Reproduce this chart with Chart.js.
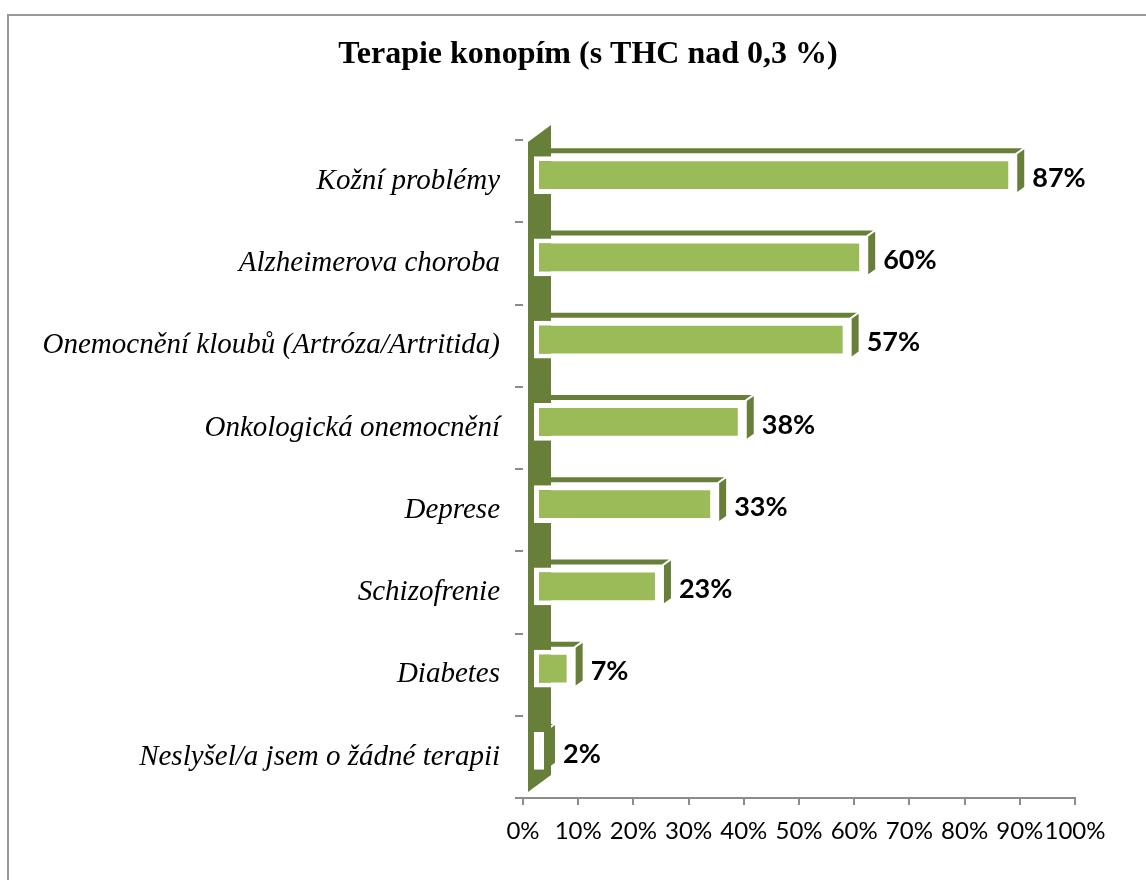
<!DOCTYPE html>
<html>
<head>
<meta charset="utf-8">
<script src="https://cdn.jsdelivr.net/npm/chart.js@4.4.1/dist/chart.umd.min.js"></script>
<style>
  html, body { margin: 0; padding: 0; background: #fff; overflow: hidden; }
  #frame { position: absolute; left: 7px; top: 14px; width: 1160px; height: 900px; border: 2px solid #999; box-sizing: border-box; }
  #wrap { position: absolute; left: 0; top: 0; width: 1146px; height: 880px; }
</style>
</head>
<body>
<div id="frame"></div>
<div id="wrap"><canvas id="barChart"></canvas></div>
<script>
const chartTitle = "Terapie konopím (s THC nad 0,3 %)";
const categories = [
  "Kožní problémy",
  "Alzheimerova choroba",
  "Onemocnění kloubů (Artróza/Artritida)",
  "Onkologická onemocnění",
  "Deprese",
  "Schizofrenie",
  "Diabetes",
  "Neslyšel/a jsem o žádné terapii"
];
const values = [87, 60, 57, 38, 33, 23, 7, 2];
const xTicks = [0, 10, 20, 30, 40, 50, 60, 70, 80, 90, 100];

// 3d look: bars are drawn a bit "behind" the front axis
const depthX = 10, depthY = -6;
const sideX = 7, sideY = -5;
const darkGreen = "#687f3a";

const threeD = {
  id: "threeD",
  beforeDatasetsDraw(chart) {
    const { ctx, chartArea } = chart;
    const x0 = chart.scales.x.getPixelForValue(0) + 5;
    const top = chartArea.top + 2, bottom = chartArea.bottom - 6;
    // back wall
    ctx.save();
    ctx.fillStyle = darkGreen;
    ctx.beginPath();
    ctx.moveTo(x0, top);
    ctx.lineTo(x0 + 23, top - 17);
    ctx.lineTo(x0 + 23, bottom - 17);
    ctx.lineTo(x0, bottom);
    ctx.closePath();
    ctx.fill();
    ctx.restore();
    ctx.save();
    ctx.translate(depthX, depthY);
  },
  afterDatasetsDraw(chart) {
    const { ctx } = chart;
    const meta = chart.getDatasetMeta(0);
    meta.data.forEach((bar, i) => {
      const h = bar.height / 2;
      const l = bar.base - 2, r = bar.x + 2;
      const t = bar.y - h - 2, b = bar.y + h + 2;
      ctx.fillStyle = darkGreen;
      // top face
      ctx.beginPath();
      ctx.moveTo(l + 4, t - 1);
      ctx.lineTo(l + 4 + sideX, t - 1 + sideY);
      ctx.lineTo(r + sideX, t - 1 + sideY);
      ctx.lineTo(r, t - 1);
      ctx.closePath();
      ctx.fill();
      // right face
      ctx.beginPath();
      ctx.moveTo(r + 2, t);
      ctx.lineTo(r + 2 + sideX, t + sideY);
      ctx.lineTo(r + 2 + sideX, b + sideY - 4);
      ctx.lineTo(r + 2, b - 4);
      ctx.closePath();
      ctx.fill();
      // value label
      ctx.fillStyle = "#000";
      ctx.font = "bold 27px Lato, 'Open Sans', sans-serif";
      ctx.textAlign = "left";
      ctx.textBaseline = "middle";
      ctx.fillText(values[i] + "%", r + sideX + 10, bar.y + 3);
    });
    ctx.restore();
  },
  afterDraw(chart) {
    const { ctx } = chart;
    ctx.save();
    ctx.fillStyle = "#000";
    ctx.font = "bold 32px 'Liberation Serif', 'Times New Roman', serif";
    ctx.textAlign = "center";
    ctx.textBaseline = "middle";
    ctx.fillText(chartTitle, 588, 55);
    ctx.restore();
  }
};

const config = {
  type: "bar",
  data: {
    labels: categories,
    datasets: [
      {
        data: values,
        backgroundColor: "#9bbb59",
        borderColor: "#ffffff",
        borderWidth: 5,
        borderSkipped: false,
        barPercentage: 0.46,
        categoryPercentage: 1
      }
    ]
  },
  options: {
    indexAxis: "y",
    responsive: false,
    animation: false,
    layout: { padding: { top: 140, right: 71, bottom: 0, left: 0 } },
    plugins: {
      legend: { display: false },
      title: { display: false },
      tooltip: { enabled: false }
    },
    scales: {
      x: {
        min: 0,
        max: 100,
        afterBuildTicks(axis) {
          axis.ticks = xTicks.map((v) => ({ value: v }));
        },
        afterFit(axis) {
          axis.height = 82;
        },
        border: { display: true, color: "#8c8c8c", width: 2 },
        grid: { drawOnChartArea: false, color: "#8c8c8c", tickLength: 7, lineWidth: 2 },
        ticks: {
          color: "#000",
          font: { family: "Lato, 'Open Sans', sans-serif", size: 24 },
          padding: 12,
          maxRotation: 0,
          autoSkip: false,
          callback: (v) => v + "%"
        }
      },
      y: {
        afterFit(axis) {
          axis.width = 523;
        },
        border: { display: false },
        grid: { offset: true, drawOnChartArea: false, color: "#8c8c8c", tickLength: 8, lineWidth: 2 },
        ticks: {
          color: "#000",
          font: { family: "'Liberation Serif', 'Times New Roman', serif", size: 29, style: "italic" },
          padding: 15,
          autoSkip: false
        }
      }
    }
  },
  plugins: [threeD]
};

const canvas = document.getElementById("barChart");
canvas.width = 1146;
canvas.height = 880;
new Chart(canvas, config);
</script>
</body>
</html>
